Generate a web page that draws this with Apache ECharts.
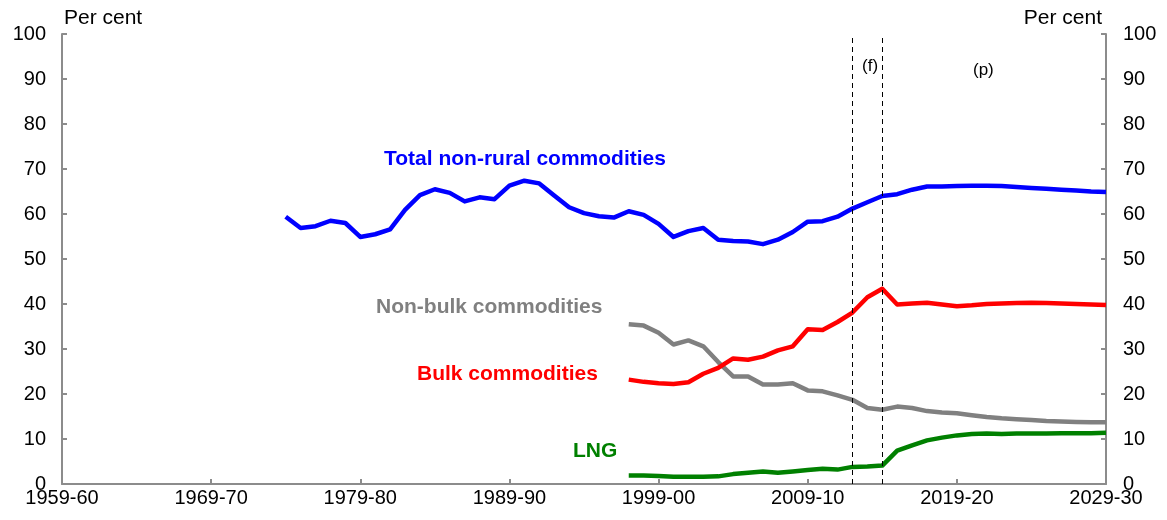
<!DOCTYPE html>
<html>
<head>
<meta charset="utf-8">
<script src="https://cdn.jsdelivr.net/npm/echarts@6/dist/echarts.min.js"></script>
<style>
  html, body { margin: 0; padding: 0; background: #fff; }
  #chart { width: 1167px; height: 520px; }
</style>
</head>
<body>
<div id="chart"></div>
<script>
// financial years, 1959-60 .. 2029-30
const years = [
  '1959-60','1960-61','1961-62','1962-63','1963-64','1964-65','1965-66','1966-67','1967-68','1968-69',
  '1969-70','1970-71','1971-72','1972-73','1973-74','1974-75','1975-76','1976-77','1977-78','1978-79',
  '1979-80','1980-81','1981-82','1982-83','1983-84','1984-85','1985-86','1986-87','1987-88','1988-89',
  '1989-90','1990-91','1991-92','1992-93','1993-94','1994-95','1995-96','1996-97','1997-98','1998-99',
  '1999-00','2000-01','2001-02','2002-03','2003-04','2004-05','2005-06','2006-07','2007-08','2008-09',
  '2009-10','2010-11','2011-12','2012-13','2013-14','2014-15','2015-16','2016-17','2017-18','2018-19',
  '2019-20','2020-21','2021-22','2022-23','2023-24','2024-25','2025-26','2026-27','2027-28','2028-29',
  '2029-30'
]

// total non-rural commodities, from 1974-75
const totalStart = 15
const totalNonRural = [
  59.4, 56.9, 57.3, 58.5, 58.0, 54.9, 55.5, 56.6, 60.9, 64.2,
  65.5, 64.7, 62.8, 63.7, 63.3, 66.3, 67.4, 66.8, 64.1, 61.5,
  60.2, 59.5, 59.2, 60.6, 59.8, 57.8, 54.9, 56.2, 56.9, 54.3,
  54.0, 53.9, 53.3, 54.3, 56.0, 58.3, 58.4, 59.4, 61.2, 62.6,
  64.0, 64.4, 65.4, 66.1, 66.1, 66.2, 66.3, 66.3, 66.2, 66.0,
  65.8, 65.6, 65.4, 65.2, 65.0, 64.9
]

// the other three start in 1997-98
const splitStart = 38
const nonBulk = [
  35.5, 35.2, 33.6, 31.0, 31.9, 30.6, 27.1, 23.9, 23.9, 22.1,
  22.1, 22.4, 20.8, 20.6, 19.7, 18.7, 16.9, 16.5, 17.2, 16.9,
  16.2, 15.9, 15.7, 15.3, 14.9, 14.6, 14.4, 14.2, 14.0, 13.9,
  13.8, 13.7, 13.7
]
const bulk = [
  23.2, 22.7, 22.4, 22.2, 22.6, 24.5, 25.8, 27.9, 27.6, 28.3,
  29.7, 30.6, 34.4, 34.2, 36.0, 38.1, 41.5, 43.4, 39.9, 40.1,
  40.3, 39.9, 39.5, 39.7, 40.0, 40.1, 40.2, 40.3, 40.2, 40.1,
  40.0, 39.9, 39.8
]
const lng = [
  1.9, 1.9, 1.8, 1.6, 1.6, 1.6, 1.7, 2.2, 2.5, 2.8,
  2.5, 2.8, 3.1, 3.4, 3.2, 3.8, 3.9, 4.1, 7.4, 8.6,
  9.7, 10.3, 10.8, 11.1, 11.2, 11.1, 11.2, 11.2, 11.2, 11.3,
  11.3, 11.3, 11.4
]

// forecast / projection markers
const forecastYears = ['2012-13', '2014-15']

function pad(start, values) {
  return new Array(start).fill(null).concat(values)
}

const font = 'Liberation Sans, Arial, sans-serif'
const axisGrey = '#8c8c8c'

function lineSeries(name, color, data) {
  return {
    name: name,
    type: 'line',
    data: data,
    symbol: 'none',
    lineStyle: { color: color, width: 4.5, join: 'round' },
    itemStyle: { color: color },
    connectNulls: false,
    animation: false
  }
}

const series = [
  lineSeries('Total non-rural commodities', '#0000ff', pad(totalStart, totalNonRural)),
  lineSeries('Non-bulk commodities', '#808080', pad(splitStart, nonBulk)),
  lineSeries('Bulk commodities', '#ff0000', pad(splitStart, bulk)),
  lineSeries('LNG', '#008000', pad(splitStart, lng))
]
series[0].markLine = {
  silent: true,
  symbol: 'none',
  label: { show: false },
  lineStyle: { color: '#000', type: [5, 4], width: 1 },
  data: forecastYears.map(y => ({ xAxis: y }))
}

function yAxis(pos) {
  return {
    type: 'value',
    position: pos,
    min: 0,
    max: 100,
    interval: 10,
    name: 'Per cent',
    nameLocation: 'end',
    nameGap: 5,
    nameTextStyle: {
      color: '#000', fontSize: 21, fontFamily: font,
      align: pos === 'left' ? 'left' : 'right',
      padding: pos === 'left' ? [0, 0, 0, 2] : [0, 4, 0, 0]
    },
    axisLine: { show: true, lineStyle: { color: axisGrey, width: 2 } },
    axisTick: { show: true, inside: true, length: 5, lineStyle: { color: axisGrey, width: 2 } },
    axisLabel: { color: '#000', fontSize: 20, fontFamily: font, margin: pos === 'left' ? 16 : 17 },
    splitLine: { show: false }
  }
}

const labelStyle = (text, x, y, color) => ({
  type: 'text',
  left: x,
  top: y,
  style: { text: text, fill: color, font: 'bold 21px ' + font }
})

const option = {
  backgroundColor: '#fff',
  animation: false,
  grid: { left: 62, right: 61, top: 34, bottom: 36, containLabel: false },
  xAxis: {
    type: 'category',
    data: years,
    boundaryGap: false,
    axisLine: { show: true, lineStyle: { color: axisGrey, width: 2 } },
    axisTick: { show: true, inside: true, length: 5, interval: 9, lineStyle: { color: axisGrey, width: 2 } },
    axisLabel: { interval: 9, color: '#000', fontSize: 20, fontFamily: font, margin: 4 }
  },
  yAxis: [yAxis('left'), yAxis('right')],
  series: series,
  graphic: [
    labelStyle('Total non-rural commodities', 384, 149, '#0000ff'),
    labelStyle('Non-bulk commodities', 376, 297, '#808080'),
    labelStyle('Bulk commodities', 417, 364, '#ff0000'),
    labelStyle('LNG', 573, 441, '#008000'),
    { type: 'text', left: 862, top: 58, style: { text: '(f)', fill: '#000', font: '17px ' + font } },
    { type: 'text', left: 973, top: 62, style: { text: '(p)', fill: '#000', font: '17px ' + font } }
  ]
}

const chart = echarts.init(document.getElementById('chart'))
chart.setOption(option)
window.addEventListener('resize', () => {
  chart.resize()
})
</script>
</body>
</html>
